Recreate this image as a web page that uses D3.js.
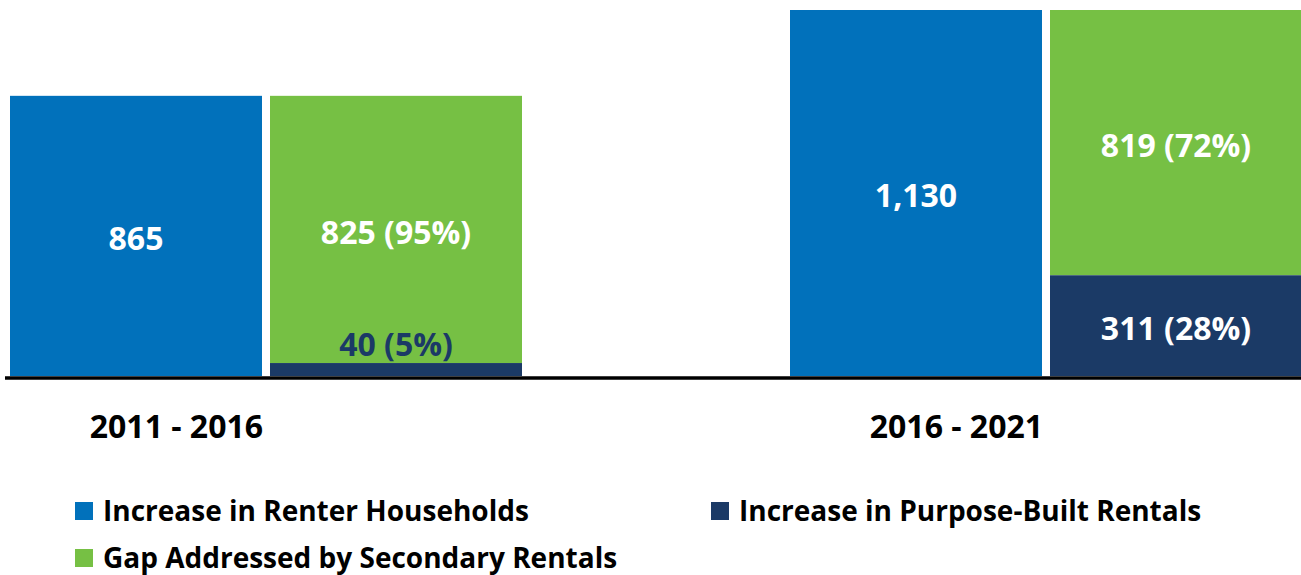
<!DOCTYPE html>
<html lang="en">
<head>
    <meta charset="UTF-8">
    <script src="https://d3js.org/d3.v7.min.js"></script>
    <title>Renter Households vs Purpose-Built Rentals</title>
    <style>
        body {
            margin: 0;
            background: white;
            font-family: "Open Sans", sans-serif;
        }
        text {
            font-weight: 700;
        }
    </style>
</head>
<body>
    <div class="chart"></div>
    <script>
        // chart data
        const categories = ["2011 - 2016", "2016 - 2021"];
        const renterHouseholds = [865, 1130];
        const purposeBuilt = [40, 311];
        const secondaryGap = [825, 819];
        const purposePct = [5, 28];
        const secondaryPct = [95, 72];
        const seriesNames = ["Increase in Renter Households", "Increase in Purpose-Built Rentals", "Gap Addressed by Secondary Rentals"];

        const colors = {
            renter: "#0171bb",
            purpose: "#1b3a66",
            gap: "#76c044"
        };

        const width = 1301;
        const height = 575;
        const baseY = 376;

        const svg = d3.select(".chart").append("svg")
            .attr("width", width)
            .attr("height", height);

        const x0 = d3.scaleBand()
            .domain(categories)
            .range([10, 1302])
            .paddingInner(268 / 780)
            .paddingOuter(0)
            .align(0);

        const x1 = d3.scaleBand()
            .domain(["renter", "stack"])
            .range([0, x0.bandwidth()])
            .paddingInner(8 / 260)
            .paddingOuter(0);

        const y = d3.scaleLinear()
            .domain([0, d3.max(renterHouseholds)])
            .range([baseY, 10]);

        const fmt = d3.format(",");

        categories.forEach((cat, i) => {
            const g = svg.append("g")
                .attr("transform", `translate(${x0(cat)},0)`);

            // renter households bar
            g.append("rect")
                .attr("x", x1("renter"))
                .attr("y", y(renterHouseholds[i]))
                .attr("width", x1.bandwidth())
                .attr("height", baseY - y(renterHouseholds[i]))
                .attr("fill", colors.renter);

            g.append("text")
                .attr("x", x1("renter") + x1.bandwidth() / 2)
                .attr("y", (y(renterHouseholds[i]) + baseY) / 2)
                .attr("dy", "0.45em")
                .attr("text-anchor", "middle")
                .attr("fill", "white")
                .attr("font-size", 32)
                .text(fmt(renterHouseholds[i]));

            // stacked: purpose-built at bottom, secondary gap on top
            const purposeTop = y(purposeBuilt[i]);
            const gapTop = y(purposeBuilt[i] + secondaryGap[i]);

            g.append("rect")
                .attr("x", x1("stack"))
                .attr("y", gapTop)
                .attr("width", x1.bandwidth())
                .attr("height", purposeTop - gapTop)
                .attr("fill", colors.gap);

            g.append("rect")
                .attr("x", x1("stack"))
                .attr("y", purposeTop)
                .attr("width", x1.bandwidth())
                .attr("height", baseY - purposeTop)
                .attr("fill", colors.purpose);

            g.append("text")
                .attr("x", x1("stack") + x1.bandwidth() / 2)
                .attr("y", (gapTop + purposeTop) / 2)
                .attr("dy", "0.45em")
                .attr("text-anchor", "middle")
                .attr("fill", "white")
                .attr("font-size", 32)
                .text(`${fmt(secondaryGap[i])} (${secondaryPct[i]}%)`);

            // small segment gets its label just above it
            const small = baseY - purposeTop < 40;
            g.append("text")
                .attr("x", x1("stack") + x1.bandwidth() / 2)
                .attr("y", small ? purposeTop - 7 : (purposeTop + baseY) / 2)
                .attr("dy", small ? 0 : "0.45em")
                .attr("text-anchor", "middle")
                .attr("fill", small ? colors.purpose : "white")
                .attr("font-size", 32)
                .text(`${fmt(purposeBuilt[i])} (${purposePct[i]}%)`);

            // category label
            g.append("text")
                .attr("x", x0.bandwidth() * 0.325)
                .attr("y", 438)
                .attr("text-anchor", "middle")
                .attr("fill", "black")
                .attr("font-size", 32)
                .text(cat);
        });

        // baseline
        svg.append("line")
            .attr("x1", 5)
            .attr("x2", width)
            .attr("y1", baseY + 2)
            .attr("y2", baseY + 2)
            .attr("stroke", "black")
            .attr("stroke-width", 3.5);

        // legend
        const legendItems = [
            { name: seriesNames[0], color: colors.renter, col: 0, row: 0 },
            { name: seriesNames[1], color: colors.purpose, col: 1, row: 0 },
            { name: seriesNames[2], color: colors.gap, col: 0, row: 1 }
        ];
        const legendX = [75, 711];
        const legendY = [511, 558];

        const legend = svg.append("g")
            .selectAll("g")
            .data(legendItems)
            .enter()
            .append("g")
            .attr("transform", d => `translate(${legendX[d.col]},${legendY[d.row]})`);

        legend.append("rect")
            .attr("x", 0)
            .attr("y", -9)
            .attr("width", 18)
            .attr("height", 18)
            .attr("fill", d => d.color);

        legend.append("text")
            .attr("x", 28)
            .attr("y", 0)
            .attr("dy", "0.36em")
            .attr("font-size", 28)
            .attr("fill", "black")
            .text(d => d.name);
    </script>
</body>
</html>
